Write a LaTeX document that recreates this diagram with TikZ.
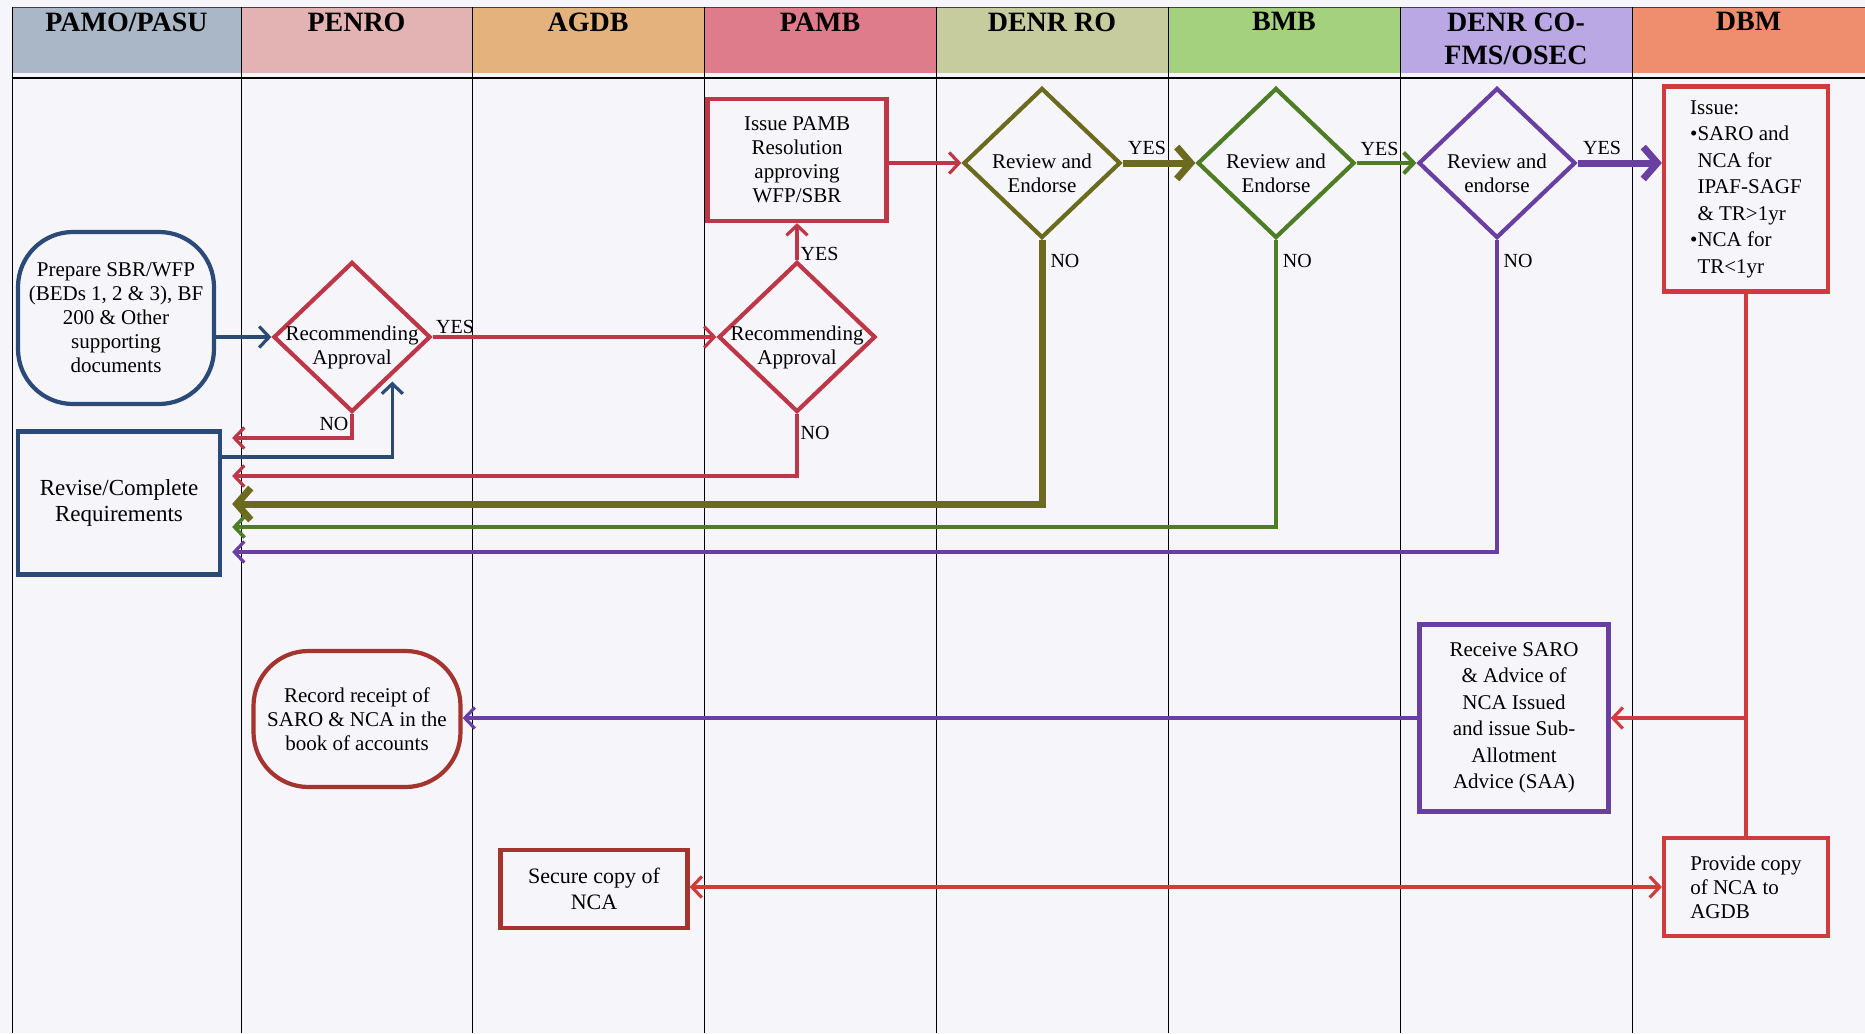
\documentclass[tikz,border=0pt]{standalone}
\usepackage{fontspec}
\setmainfont{Liberation Serif}
\usetikzlibrary{shapes.geometric,arrows.meta}

\definecolor{pagebg}{HTML}{F6F6FA}
\definecolor{hpamo}{HTML}{A9B7C6}
\definecolor{hpenro}{HTML}{E2B3B2}
\definecolor{hagdb}{HTML}{E3B27D}
\definecolor{hpamb}{HTML}{DE7C8C}
\definecolor{hro}{HTML}{C6CC9D}
\definecolor{hbmb}{HTML}{A3D17E}
\definecolor{hco}{HTML}{BAA8E4}
\definecolor{hdbm}{HTML}{EF8E6F}
\definecolor{flowblue}{HTML}{2C4A78}
\definecolor{flowred}{HTML}{BE3748}
\definecolor{dbmred}{HTML}{D23B3B}
\definecolor{brickred}{HTML}{A5342F}
\definecolor{flowolive}{HTML}{6C6A1F}
\definecolor{flowgreen}{HTML}{4E7D26}
\definecolor{flowpurple}{HTML}{6A3FA2}

\tikzset{
  lanehead/.style={anchor=north, align=center, font=\fontsize{28}{33}\selectfont\bfseries},
  procbox/.style={draw, line width=4.2pt, align=center, inner sep=3pt, font=\fontsize{21}{24}\selectfont},
  termbox/.style={procbox, rounded corners=55pt},
  decision/.style={diamond, draw, line width=4.2pt, minimum width=157pt, minimum height=150pt, inner sep=0pt},
  dectext/.style={align=center, yshift=-10pt, font=\fontsize{21}{24}\selectfont},
  answer/.style={inner sep=2pt, font=\fontsize{20}{22}\selectfont},
  flow/.style={line width=3.2pt, ->},
  heavyflow/.style={line width=7pt, -{Straight Barb[length=14pt,width=32pt]}},
  backflow/.style={flow, shorten >=10pt},
  heavyback/.style={heavyflow, shorten >=10pt}
}

\begin{document}
\begin{tikzpicture}[x=1pt, y=-1pt, >={Straight Barb[length=10pt,width=21pt]}]
  % Page
  \fill[pagebg] (0,0) rectangle (1865,1033);
  \useasboundingbox (0,0) rectangle (1865,1033);

  % Lane headers
  \fill[hpamo] (12,8) rectangle (241,73);
  \fill[hpenro] (241,8) rectangle (472,73);
  \fill[hagdb] (472,8) rectangle (704,73);
  \fill[hpamb] (704,8) rectangle (936,73);
  \fill[hro] (936,8) rectangle (1168,73);
  \fill[hbmb] (1168,8) rectangle (1400,73);
  \fill[hco] (1400,8) rectangle (1632,73);
  \fill[hdbm] (1632,8) rectangle (1865,73);
  \node[lanehead] (hPamo) at (126.5,9) {PAMO/PASU};
  \node[lanehead] (hPenro) at (356.5,9) {PENRO};
  \node[lanehead] (hAgdb) at (588,9) {AGDB};
  \node[lanehead] (hPamb) at (820,9) {PAMB};
  \node[lanehead] (hRo) at (1052,9) {DENR RO};
  \node[lanehead] (hBmb) at (1284,9) {BMB};
  \node[lanehead] (hCo) at (1516,9) {DENR CO-\\FMS/OSEC};
  \node[lanehead] (hDbm) at (1748.5,9) {DBM};

  % Lane lines
  \draw[line width=0.8pt, black!75] (12,7) -- (1865,7);
  \draw[line width=2.2pt] (12,78) -- (1865,78);
  \draw[line width=1pt]
    (12,7) -- (12,1033) (241,7) -- (241,1033) (472,7) -- (472,1033)
    (704,7) -- (704,1033) (936,7) -- (936,1033) (1168,7) -- (1168,1033)
    (1400,7) -- (1400,1033) (1632,7) -- (1632,1033);

  % PAMO/PASU
  \node[termbox, draw=flowblue, minimum width=196pt, minimum height=172pt] (prep) at (116,318)
    {Prepare SBR/WFP\\(BEDs 1, 2 \& 3), BF\\200 \& Other\\supporting\\documents};
  \node[procbox, draw=flowblue, minimum width=202pt, minimum height=143pt,
    font=\fontsize{23}{26}\selectfont] (revise) at (119,503) {Revise/Complete\\Requirements};

  % PENRO
  \node[decision, draw=flowred, label={[dectext]center:Recommending\\Approval}] (recA) at (352,337) {};
  \node[termbox, draw=brickred, minimum width=207pt, minimum height=136pt] (record) at (357,719)
    {Record receipt of\\SARO \& NCA in the\\book of accounts};

  % AGDB
  \node[procbox, draw=brickred, minimum width=187pt, minimum height=78pt,
    font=\fontsize{22}{26}\selectfont] (secure) at (594,889) {Secure copy of\\NCA};

  % PAMB
  \node[decision, draw=flowred, label={[dectext]center:Recommending\\Approval}] (recB) at (797,337) {};
  \node[procbox, draw=flowred, minimum width=179pt, minimum height=122pt] (issue) at (797,160)
    {Issue PAMB\\Resolution\\approving\\WFP/SBR};

  % DENR RO, BMB, DENR CO
  \node[decision, draw=flowolive, label={[dectext]center:Review and\\Endorse}] (revRO) at (1042,163) {};
  \node[decision, draw=flowgreen, label={[dectext]center:Review and\\Endorse}] (revBMB) at (1276,163) {};
  \node[decision, draw=flowpurple, label={[dectext]center:Review and\\endorse}] (revCO) at (1497,163) {};
  \node[procbox, draw=flowpurple, minimum width=189pt, minimum height=187pt,
    font=\fontsize{21}{26.5}\selectfont] (receive) at (1514,718)
    {Receive SARO\\\& Advice of\\NCA Issued\\and issue Sub-\\Allotment\\Advice (SAA)};

  % DBM
  \node[procbox, draw=dbmred, align=left, minimum width=164pt, minimum height=205pt,
    font=\fontsize{21}{26.5}\selectfont] (dbm) at (1746,189)
    {Issue:\\\textbullet SARO and\\\phantom{\textbullet}NCA for\\\phantom{\textbullet}IPAF-SAGF\\
     \phantom{\textbullet}\& TR>1yr\\\textbullet NCA for\\\phantom{\textbullet}TR<1yr};
  \node[procbox, draw=dbmred, align=left, minimum width=164pt, minimum height=98pt] (provide) at (1746,887)
    {Provide copy\\of NCA to\\AGDB};
  \coordinate (split) at (dbm.south |- receive.east);

  % Forward flow
  \draw[flow, draw=flowblue] (prep.east |- recA.west) -- (recA.west);
  \draw[flow, draw=flowred] (recA.east) -- node[answer, above right, pos=0] {YES} (recB.west);
  \draw[flow, draw=flowred] (recB.north) -- node[answer, right, pos=0.15] {YES} (issue.south);
  \draw[flow, draw=flowred] (issue.east |- revRO.west) -- (revRO.west);
  \draw[heavyflow, draw=flowolive] (revRO.east) -- node[answer, above right, pos=0, yshift=3pt] {YES} (revBMB.west);
  \draw[flow, line width=4pt, draw=flowgreen] (revBMB.east) -- node[answer, above right, pos=0, yshift=3pt] {YES} (revCO.west);
  \draw[heavyflow, draw=flowpurple] (revCO.east) -- node[answer, above right, pos=0, yshift=3pt] {YES} (revCO.east -| dbm.west);
  \draw[line width=3.2pt, draw=dbmred] (dbm.south) -- (provide.north);
  \draw[flow, draw=dbmred] (split) -- (receive.east);
  \draw[flow, draw=flowpurple] (receive.west) -- (receive.west -| record.east);
  \draw[flow, <->, draw=dbmred] (secure.east |- provide.west) -- (provide.west);

  % Return flow
  \draw[backflow, draw=flowred] (recA.south) |- node[answer, left, pos=0.21] {NO} ([yshift=65pt]revise.east);
  \draw[flow, draw=flowblue, shorten >=6pt] ([yshift=46pt]revise.east) -| (recA.south east);
  \draw[backflow, draw=flowred] (recB.south) |- node[answer, right, pos=0.155] {NO} ([yshift=27pt]revise.east);
  \draw[heavyback, draw=flowolive] (revRO.south) |- node[answer, right, xshift=3pt, pos=0.04] {NO} ([yshift=-1pt]revise.east);
  \draw[backflow, line width=3.6pt, draw=flowgreen] (revBMB.south) |- node[answer, right, xshift=3pt, pos=0.036] {NO} ([yshift=-24pt]revise.east);
  \draw[backflow, draw=flowpurple] (revCO.south) |- node[answer, right, xshift=3pt, pos=0.033] {NO} ([yshift=-49pt]revise.east);
\end{tikzpicture}
\end{document}
